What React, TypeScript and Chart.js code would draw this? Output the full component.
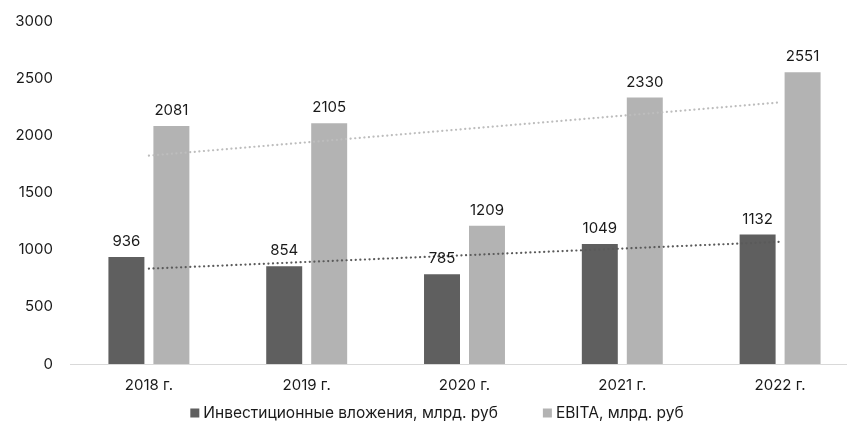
import React, { useEffect, useRef } from "react";
import { Chart, registerables } from "chart.js";

Chart.register(...registerables);

const categories = ["2018 г.", "2019 г.", "2020 г.", "2021 г.", "2022 г."];
const investments = [936, 854, 785, 1049, 1132];
const ebita = [2081, 2105, 1209, 2330, 2551];
const seriesNames = ["Инвестиционные вложения, млрд. руб", "EBITA, млрд. руб"];
const yMin = 0;
const yMax = 3000;
const yStep = 500;

const DARK = "#5f5f5f";
const LIGHT = "#b3b3b3";
const FONT = "Inter";

function linearTrend(values: number[]): number[] {
  const n = values.length;
  const xs = values.map((_, i) => i);
  const mx = xs.reduce((a, b) => a + b, 0) / n;
  const my = values.reduce((a, b) => a + b, 0) / n;
  let num = 0;
  let den = 0;
  for (let i = 0; i < n; i++) {
    num += (xs[i] - mx) * (values[i] - my);
    den += (xs[i] - mx) * (xs[i] - mx);
  }
  const slope = num / den;
  return xs.map((x) => my + slope * (x - mx));
}

const dataLabelPlugin = {
  id: "dataLabels",
  afterDatasetsDraw(chart: any) {
    const ctx = chart.ctx;
    ctx.save();
    ctx.font = `15px ${FONT}`;
    ctx.fillStyle = "#1a1a1a";
    ctx.textAlign = "center";
    ctx.textBaseline = "alphabetic";
    chart.data.datasets.forEach((ds: any, di: number) => {
      if (ds.type !== "bar") return;
      const meta = chart.getDatasetMeta(di);
      meta.data.forEach((el: any, i: number) => {
        ctx.fillText(String(ds.data[i]), el.x, el.y - 11);
      });
    });
    ctx.restore();
  },
};

const legendPlugin = {
  id: "customLegend",
  afterDraw(chart: any) {
    const ctx = chart.ctx;
    ctx.save();
    ctx.font = `15.5px ${FONT}`;
    ctx.textBaseline = "middle";
    ctx.textAlign = "left";
    const box = 9;
    const gap = 4;
    const itemGap = 45;
    const colors = [DARK, LIGHT];
    const widths = seriesNames.map((s) => ctx.measureText(s).width);
    const total = widths.reduce((a, w) => a + box + gap + w, 0) + itemGap;
    let x = 437 - total / 2;
    const y = 413;
    seriesNames.forEach((s, i) => {
      ctx.fillStyle = colors[i];
      ctx.fillRect(x, y - box / 2, box, box);
      ctx.fillStyle = "#1a1a1a";
      ctx.fillText(s, x + box + gap, y);
      x += box + gap + widths[i] + itemGap;
    });
    ctx.restore();
  },
};

export default function App() {
  const ref = useRef<HTMLCanvasElement>(null);
  useEffect(() => {
    document.body.style.margin = "0";
    const chart = new Chart(ref.current!, {
      type: "bar",
      data: {
        labels: categories,
        datasets: [
          {
            type: "line",
            label: "trend1",
            data: linearTrend(investments),
            borderColor: "#5a5a5a",
            borderWidth: 2.2,
            borderDash: [0.1, 4.5],
            borderCapStyle: "round",
            pointRadius: 0,
            fill: false,
            order: 0,
          } as any,
          {
            type: "line",
            label: "trend2",
            data: linearTrend(ebita),
            borderColor: "#bdbdbd",
            borderWidth: 2.2,
            borderDash: [0.1, 4.5],
            borderCapStyle: "round",
            pointRadius: 0,
            fill: false,
            order: 0,
          } as any,
          {
            type: "bar",
            label: seriesNames[0],
            data: investments,
            backgroundColor: DARK,
            categoryPercentage: 0.57,
            barPercentage: 0.8,
            order: 1,
          },
          {
            type: "bar",
            label: seriesNames[1],
            data: ebita,
            backgroundColor: LIGHT,
            categoryPercentage: 0.57,
            barPercentage: 0.8,
            order: 1,
          },
        ],
      },
      options: {
        responsive: false,
        animation: false,
        layout: { padding: { top: 21, bottom: 19, left: 0, right: 3 } },
        plugins: {
          legend: { display: false },
          tooltip: { enabled: false },
        },
        scales: {
          x: {
            offset: true,
            grid: { display: false, drawTicks: false },
            border: { display: true, color: "#d9d9d9", width: 1 },
            ticks: {
              padding: 12,
              color: "#1a1a1a",
              font: { family: FONT, size: 15 },
            },
          },
          y: {
            min: yMin,
            max: yMax,
            grid: { display: false, drawTicks: false },
            border: { display: false },
            ticks: {
              stepSize: yStep,
              padding: 17,
              color: "#1a1a1a",
              font: { family: FONT, size: 15 },
              callback: (v: any) => String(v),
            },
            afterFit(scale: any) {
              scale.width = 70;
              scale.paddingTop = 0;
            },
          },
        },
      },
      plugins: [dataLabelPlugin, legendPlugin],
    });
    return () => chart.destroy();
  }, []);
  return (
    <div style={{ position: "absolute", left: 0, top: 0, width: 847, height: 425, overflow: "hidden", background: "#fff" }}>
      <canvas ref={ref} width={862} height={425} />
    </div>
  );
}
